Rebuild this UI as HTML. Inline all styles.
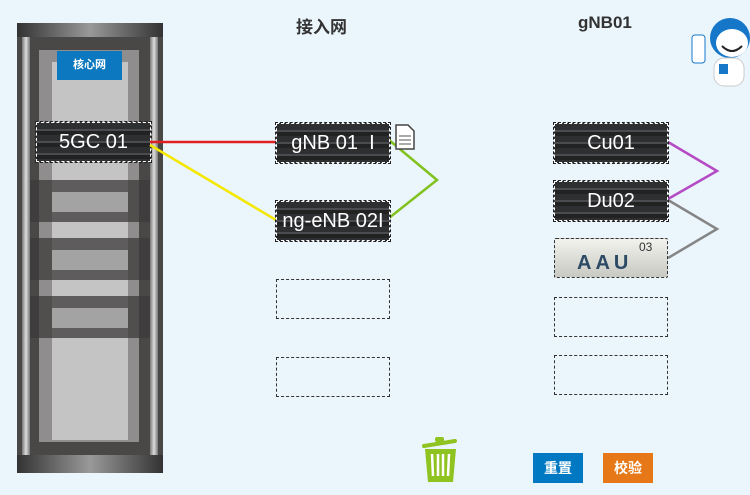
<!DOCTYPE html>
<html><head><meta charset="utf-8"><style>
body{margin:0;width:750px;height:495px;background:#eaf5fc;position:relative;overflow:hidden;font-family:"Liberation Sans","Noto Sans CJK SC",sans-serif}
.a{position:absolute}
.dev{position:absolute;width:112px;height:38px;border:1px dashed #fff;outline:1px dashed #222;background:repeating-linear-gradient(180deg,#2e2f31 0 6px,#4a4c4f 6px 8px,#222 8px 12px);color:#fff;font-size:20px;text-align:center;line-height:38px}
.emp{position:absolute;width:112px;height:38px;border:1px dashed #333}
.h{position:absolute;top:13px;font-size:17px;font-weight:bold;color:#333}
.btn{position:absolute;top:453px;width:50px;height:30px;color:#fff;font-size:14px;font-weight:bold;text-align:center;line-height:30px}
</style></head><body>
<!-- rack -->
<div class="a" style="left:17px;top:23px;width:146px;height:450px;background:#4a4747"></div>
<div class="a" style="left:17px;top:23px;width:146px;height:14px;background:linear-gradient(90deg,#333,#999 50%,#333)"></div>
<div class="a" style="left:17px;top:455px;width:146px;height:18px;background:linear-gradient(90deg,#333,#999 50%,#333)"></div>
<div class="a" style="left:22px;top:37px;width:8px;height:418px;background:linear-gradient(90deg,#777,#ddd,#777)"></div>
<div class="a" style="left:150px;top:37px;width:8px;height:418px;background:linear-gradient(90deg,#777,#ddd,#777)"></div>
<div class="a" style="left:39px;top:50px;width:100px;height:392px;background:#8f8d8d"></div>
<div class="a" style="left:52px;top:62px;width:76px;height:378px;background:#c4c4c4"></div>
<div class="a" style="left:57px;top:51px;width:65px;height:29px;background:#0b78c0;color:#fff;font-size:11px;font-weight:bold;text-align:center;line-height:29px">核心网</div>
<div class="a" style="left:30px;top:180px;width:120px;height:42px;background:rgba(60,58,58,.75)"></div>
<div class="a" style="left:30px;top:238px;width:120px;height:42px;background:rgba(60,58,58,.75)"></div>
<div class="a" style="left:30px;top:296px;width:120px;height:42px;background:rgba(60,58,58,.75)"></div>
<div class="a" style="left:52px;top:192px;width:76px;height:20px;background:#a3a3a3"></div>
<div class="a" style="left:52px;top:250px;width:76px;height:20px;background:#a3a3a3"></div>
<div class="a" style="left:52px;top:308px;width:76px;height:20px;background:#a3a3a3"></div>
<div class="dev" style="left:36px;top:122px;width:113px;height:38px">5GC 01</div>
<svg class="a" style="left:0;top:0" width="750" height="495">
<line x1="150" y1="142" x2="276" y2="142" stroke="#e02020" stroke-width="2.5"/>
<line x1="150" y1="145" x2="276" y2="220" stroke="#f5e800" stroke-width="2.5"/>
<polyline points="389,140 437,180 389,218" fill="none" stroke="#82c21f" stroke-width="2.5"/>
<polyline points="668,142 717,171 668,199" fill="none" stroke="#b44ac4" stroke-width="2.5"/>
<polyline points="668,200 717,229 668,258" fill="none" stroke="#858585" stroke-width="2.5"/>
<path d="M396 125h12l6 6v18h-18z" fill="#fff" stroke="#444" stroke-width="1.5"/>
<g stroke="#555"><line x1="399" y1="136" x2="411" y2="136"/><line x1="399" y1="140" x2="411" y2="140"/><line x1="399" y1="144" x2="411" y2="144"/></g>
<!-- trash -->
<path d="M424 446 L455 441" stroke="#8fc31f" stroke-width="4" stroke-linecap="round"/>
<rect x="435" y="437" width="9" height="5" rx="2" fill="#8fc31f"/>
<path d="M425 449 H456 L453 482 H428 Z" fill="#8fc31f"/>
<g stroke="#fff" stroke-width="2.5"><line x1="432" y1="454" x2="433" y2="476"/><line x1="438" y1="454" x2="438" y2="476"/><line x1="443" y1="454" x2="443" y2="476"/><line x1="449" y1="454" x2="448" y2="476"/></g>
<!-- robot -->
<circle cx="730" cy="38" r="20" fill="#1677c8"/>
<ellipse cx="732" cy="43" rx="16" ry="14" fill="#fff"/>
<path d="M722 46 q10 10 20 0" stroke="#222" fill="none" stroke-width="2"/>
<rect x="692" y="35" width="13" height="28" rx="3" fill="#fff" stroke="#1677c8"/>
<rect x="714" y="58" width="30" height="28" rx="10" fill="#fff" stroke="#ccc"/>
<rect x="719" y="64" width="9" height="10" fill="#1677c8"/>
</svg>
<div class="h" style="left:296px">接入网</div>
<div class="h" style="left:578px">gNB01</div>
<div class="dev" style="left:276px;top:123px">gNB&nbsp;01&nbsp;&nbsp;I</div>
<div class="dev" style="left:276px;top:201px">ng-eNB 02I</div>
<div class="emp" style="left:276px;top:279px"></div>
<div class="emp" style="left:276px;top:357px"></div>
<div class="dev" style="left:554px;top:123px">Cu01</div>
<div class="dev" style="left:554px;top:181px">Du02</div>
<div class="a" style="left:554px;top:238px;width:112px;height:38px;border:1px dashed #333;background:linear-gradient(180deg,#f2f2ee,#c9c9c3);border-radius:2px">
<span class="a" style="left:22px;top:13px;font-size:20px;font-weight:bold;color:#2c4a64;letter-spacing:4px">AAU</span>
<span class="a" style="left:84px;top:1px;font-size:12px;color:#333">03</span></div>
<div class="emp" style="left:554px;top:297px"></div>
<div class="emp" style="left:554px;top:355px"></div>
<div class="btn" style="left:533px;background:#0079c2">重置</div>
<div class="btn" style="left:603px;background:#e67817">校验</div>
</body></html>
